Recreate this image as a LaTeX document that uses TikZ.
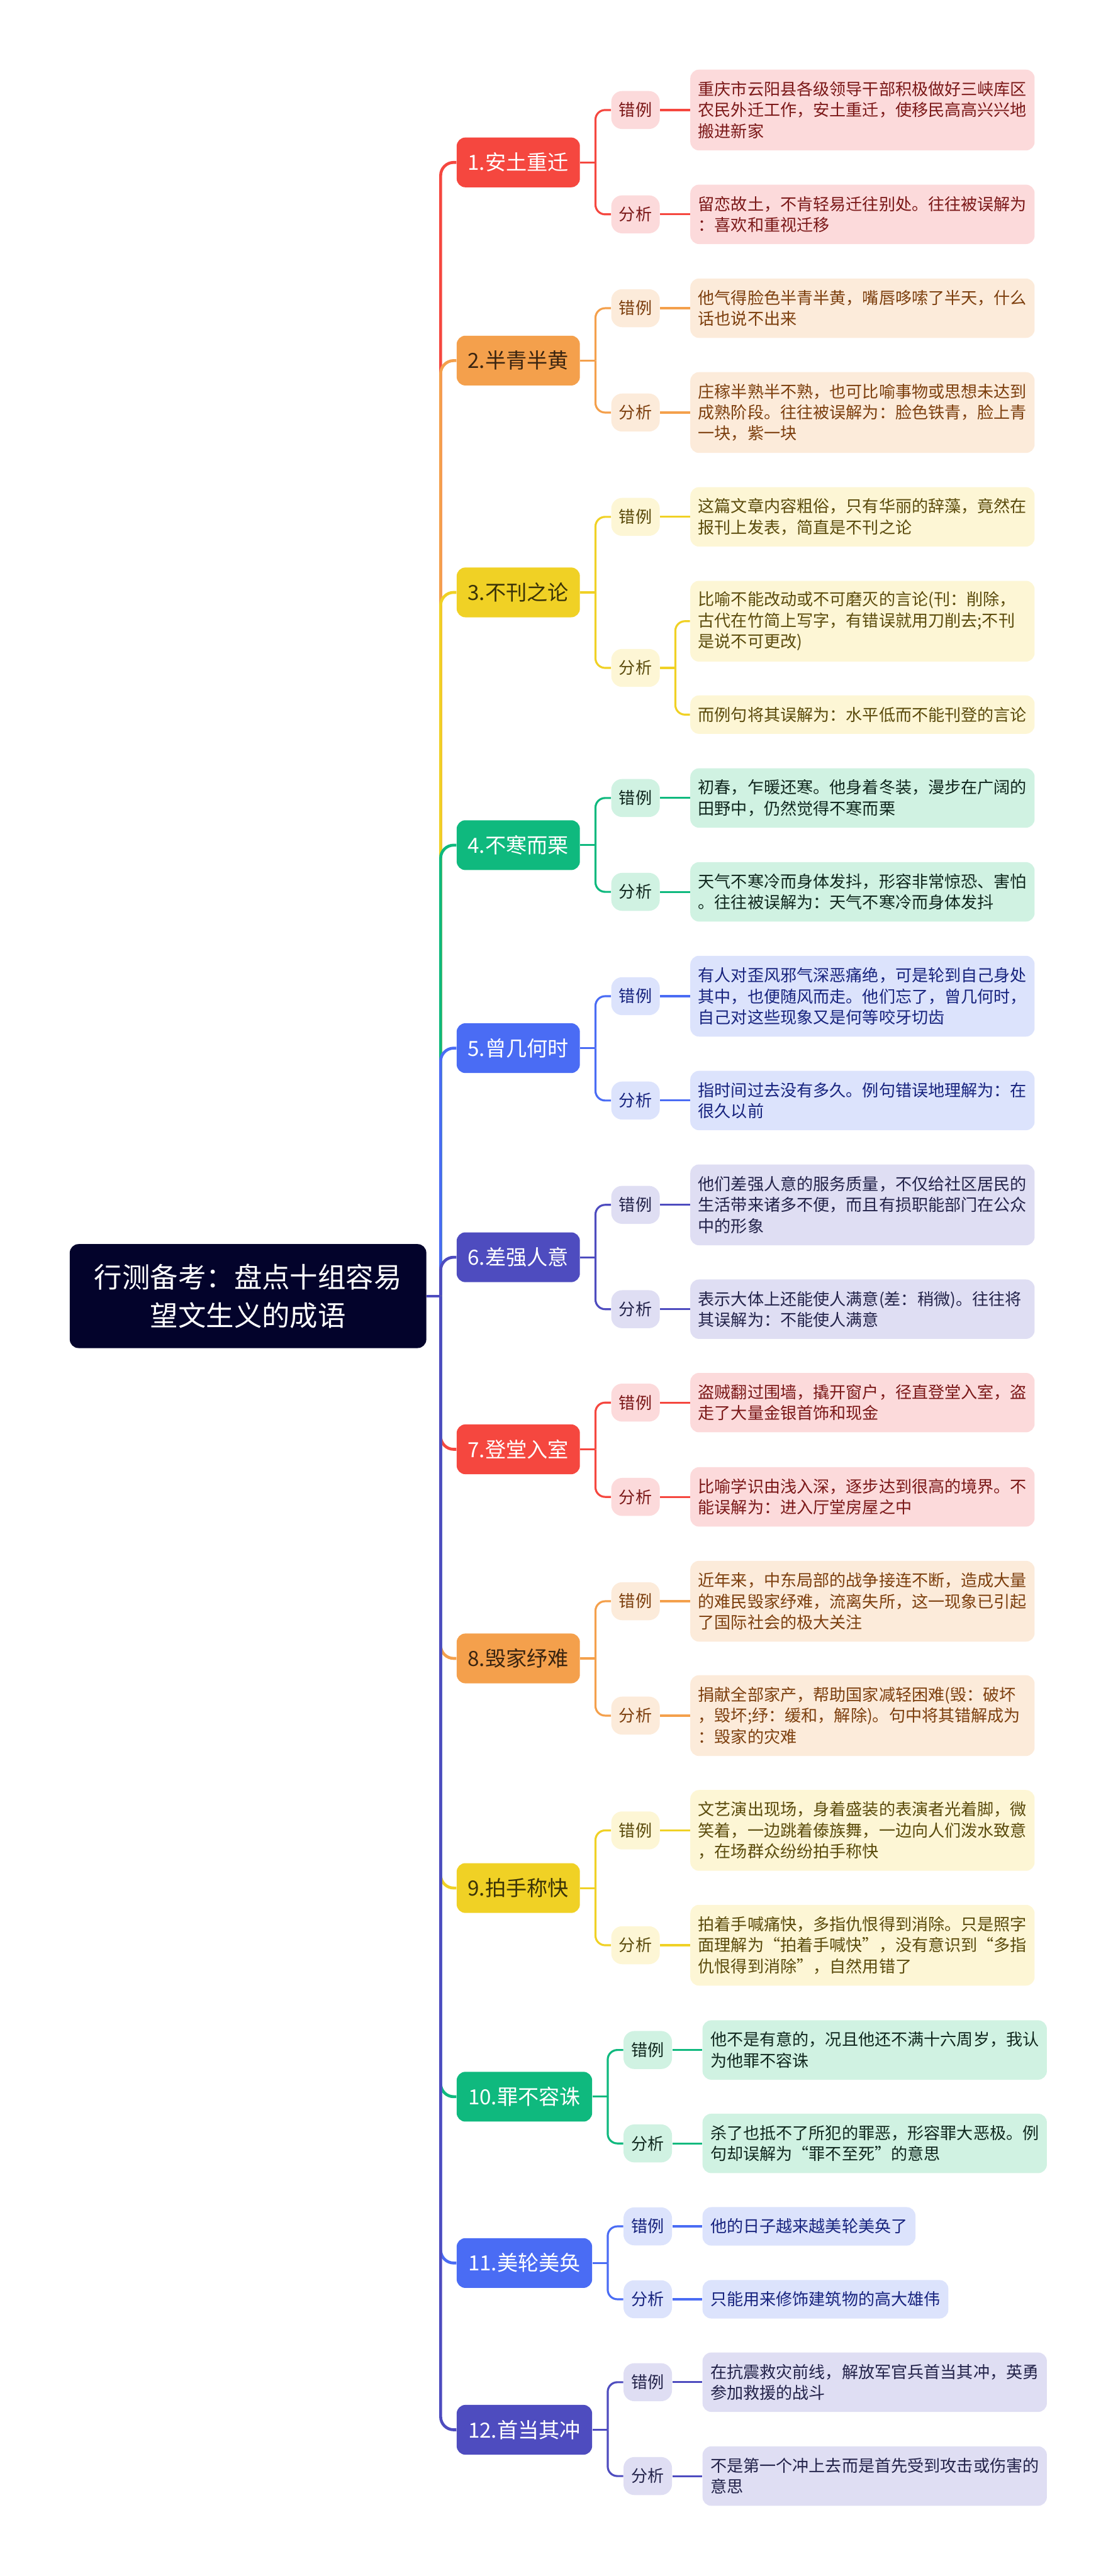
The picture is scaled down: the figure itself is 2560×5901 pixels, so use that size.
\documentclass[tikz,border=0pt]{standalone}
\usepackage{fontspec}
\setmainfont{Noto Sans CJK SC}
\definecolor{rootbg}{HTML}{03032B}
\definecolor{cRed}{HTML}{F5473F}
\definecolor{cRedL}{HTML}{FCDADB}
\definecolor{cRedT}{HTML}{7B1818}
\definecolor{cOra}{HTML}{F4A04C}
\definecolor{cOraL}{HTML}{FCEBDA}
\definecolor{cOraT}{HTML}{7D3F0E}
\definecolor{cOraD}{HTML}{3A2410}
\definecolor{cYel}{HTML}{F0D125}
\definecolor{cYelL}{HTML}{FDF6D5}
\definecolor{cYelT}{HTML}{5B4B0C}
\definecolor{cYelD}{HTML}{3A3308}
\definecolor{cGrn}{HTML}{0FB97E}
\definecolor{cGrnL}{HTML}{D0F2E2}
\definecolor{cGrnT}{HTML}{10271E}
\definecolor{cBlu}{HTML}{4A6CF4}
\definecolor{cBluL}{HTML}{DCE3FC}
\definecolor{cBluT}{HTML}{17237E}
\definecolor{cInd}{HTML}{4E4CBF}
\definecolor{cIndL}{HTML}{DFDEF3}
\definecolor{cIndT}{HTML}{23234A}
\newcommand{\notesize}{\fontsize{10.7pt}{13.66pt}\selectfont}
\newcommand{\topicsize}{\fontsize{13.6pt}{16pt}\selectfont}
\newcommand{\rootsize}{\fontsize{18.2pt}{24.75pt}\selectfont}
\tikzset{
topic/.style 2 args={anchor=west, rounded corners=0.2cm, minimum height=1.14cm, minimum width=2.82cm, inner xsep=0.25cm, fill=#1, text=#2, font=\topicsize},
tag/.style 2 args={anchor=west, rounded corners=0.25cm, minimum height=0.87cm, minimum width=1.11cm, inner xsep=0.1cm, fill=#1, text=#2, font=\notesize},
note/.style 2 args={anchor=west, rounded corners=0.2cm, inner xsep=0.18cm, inner ysep=0.1cm, align=left, fill=#1, text=#2, font=\notesize},
wide/.style={text width=7.52cm},
n1/.style={minimum height=0.88cm},
n2/.style={minimum height=1.36cm},
n3/.style={minimum height=1.85cm},
trunkline/.style={line width=1.9pt, rounded corners=0.3cm},
subline/.style={line width=1.3pt}
}
\begin{document}
\begin{tikzpicture}[x=0.01cm, y=-0.01cm]
\useasboundingbox (0,0) rectangle (2560,5901);

% root
\node[fill=rootbg, text=white, rounded corners=0.2cm, minimum width=8.16cm, minimum height=2.38cm, text width=7.1cm, align=center, font=\rootsize] (root) at (568,2969) {行测备考：盘点十组容易\\望文生义的成语};
\coordinate (trunk) at (1009,2969);

% topics
\node[topic={cRed}{white}] (t1) at (1045,372) {1.安土重迁};
\node[topic={cOra}{cOraD}] (t2) at (1045,826) {2.半青半黄};
\node[topic={cYel}{cYelD}] (t3) at (1045,1357) {3.不刊之论};
\node[topic={cGrn}{white}] (t4) at (1045,1936) {4.不寒而栗};
\node[topic={cBlu}{white}] (t5) at (1045,2401) {5.曾几何时};
\node[topic={cInd}{white}] (t6) at (1045,2880) {6.差强人意};
\node[topic={cRed}{white}] (t7) at (1045,3320) {7.登堂入室};
\node[topic={cOra}{cOraD}] (t8) at (1045,3799) {8.毁家纾难};
\node[topic={cYel}{cYelD}] (t9) at (1045,4325) {9.拍手称快};
\node[topic={cGrn}{white}, minimum width=3.1cm] (t10) at (1045,4803) {10.罪不容诛};
\node[topic={cBlu}{white}, minimum width=3.1cm] (t11) at (1045,5184) {11.美轮美奂};
\node[topic={cInd}{white}, minimum width=3.1cm] (t12) at (1045,5566) {12.首当其冲};

% 1
\node[tag={cRedL}{cRedT}] (e1) at (1399,252) {错例};
\node[tag={cRedL}{cRedT}] (f1) at (1399,491) {分析};
\node[note={cRedL}{cRedT}, wide, n3] (x1) at (1580,252) {重庆市云阳县各级领导干部积极做好三峡库区\\农民外迁工作，安土重迁，使移民高高兴兴地\\搬进新家};
\node[note={cRedL}{cRedT}, wide, n2] (y1) at (1580,491) {留恋故土，不肯轻易迁往别处。往往被误解为\\：喜欢和重视迁移};
% 2
\node[tag={cOraL}{cOraT}] (e2) at (1399,706) {错例};
\node[tag={cOraL}{cOraT}] (f2) at (1399,945) {分析};
\node[note={cOraL}{cOraT}, wide, n2] (x2) at (1580,706) {他气得脸色半青半黄，嘴唇哆嗦了半天，什么\\话也说不出来};
\node[note={cOraL}{cOraT}, wide, n3] (y2) at (1580,945) {庄稼半熟半不熟，也可比喻事物或思想未达到\\成熟阶段。往往被误解为：脸色铁青，脸上青\\一块，紫一块};
% 3
\node[tag={cYelL}{cYelT}] (e3) at (1399,1184) {错例};
\node[tag={cYelL}{cYelT}] (f3) at (1399,1530) {分析};
\node[note={cYelL}{cYelT}, wide, n2] (x3) at (1580,1184) {这篇文章内容粗俗，只有华丽的辞藻，竟然在\\报刊上发表，简直是不刊之论};
\node[note={cYelL}{cYelT}, wide, n3] (y3) at (1580,1423) {比喻不能改动或不可磨灭的言论(刊：削除，\\古代在竹简上写字，有错误就用刀削去;不刊\\是说不可更改)};
\node[note={cYelL}{cYelT}, wide, n1] (z3) at (1580,1637) {而例句将其误解为：水平低而不能刊登的言论};
% 4
\node[tag={cGrnL}{cGrnT}] (e4) at (1399,1828) {错例};
\node[tag={cGrnL}{cGrnT}] (f4) at (1399,2043) {分析};
\node[note={cGrnL}{cGrnT}, wide, n2] (x4) at (1580,1828) {初春，乍暖还寒。他身着冬装，漫步在广阔的\\田野中，仍然觉得不寒而栗};
\node[note={cGrnL}{cGrnT}, wide, n2] (y4) at (1580,2043) {天气不寒冷而身体发抖，形容非常惊恐、害怕\\。往往被误解为：天气不寒冷而身体发抖};
% 5
\node[tag={cBluL}{cBluT}] (e5) at (1399,2282) {错例};
\node[tag={cBluL}{cBluT}] (f5) at (1399,2521) {分析};
\node[note={cBluL}{cBluT}, wide, n3] (x5) at (1580,2282) {有人对歪风邪气深恶痛绝，可是轮到自己身处\\其中，也便随风而走。他们忘了，曾几何时，\\自己对这些现象又是何等咬牙切齿};
\node[note={cBluL}{cBluT}, wide, n2] (y5) at (1580,2521) {指时间过去没有多久。例句错误地理解为：在\\很久以前};
% 6
\node[tag={cIndL}{cIndT}] (e6) at (1399,2760) {错例};
\node[tag={cIndL}{cIndT}] (f6) at (1399,2999) {分析};
\node[note={cIndL}{cIndT}, wide, n3] (x6) at (1580,2760) {他们差强人意的服务质量，不仅给社区居民的\\生活带来诸多不便，而且有损职能部门在公众\\中的形象};
\node[note={cIndL}{cIndT}, wide, n2] (y6) at (1580,2999) {表示大体上还能使人满意(差：稍微)。往往将\\其误解为：不能使人满意};
% 7
\node[tag={cRedL}{cRedT}] (e7) at (1399,3213) {错例};
\node[tag={cRedL}{cRedT}] (f7) at (1399,3429) {分析};
\node[note={cRedL}{cRedT}, wide, n2] (x7) at (1580,3213) {盗贼翻过围墙，撬开窗户，径直登堂入室，盗\\走了大量金银首饰和现金};
\node[note={cRedL}{cRedT}, wide, n2] (y7) at (1580,3429) {比喻学识由浅入深，逐步达到很高的境界。不\\能误解为：进入厅堂房屋之中};
% 8
\node[tag={cOraL}{cOraT}] (e8) at (1399,3668) {错例};
\node[tag={cOraL}{cOraT}] (f8) at (1399,3930) {分析};
\node[note={cOraL}{cOraT}, wide, n3] (x8) at (1580,3668) {近年来，中东局部的战争接连不断，造成大量\\的难民毁家纾难，流离失所，这一现象已引起\\了国际社会的极大关注};
\node[note={cOraL}{cOraT}, wide, n3] (y8) at (1580,3930) {捐献全部家产，帮助国家减轻困难(毁：破坏\\，毁坏;纾：缓和，解除)。句中将其错解成为\\：毁家的灾难};
% 9
\node[tag={cYelL}{cYelT}] (e9) at (1399,4193) {错例};
\node[tag={cYelL}{cYelT}] (f9) at (1399,4456) {分析};
\node[note={cYelL}{cYelT}, wide, n3] (x9) at (1580,4193) {文艺演出现场，身着盛装的表演者光着脚，微\\笑着，一边跳着傣族舞，一边向人们泼水致意\\，在场群众纷纷拍手称快};
\node[note={cYelL}{cYelT}, wide, n3] (y9) at (1580,4456) {拍着手喊痛快，多指仇恨得到消除。只是照字\\面理解为“拍着手喊快”，没有意识到“多指\\仇恨得到消除”，自然用错了};
% 10
\node[tag={cGrnL}{cGrnT}] (e10) at (1427,4696) {错例};
\node[tag={cGrnL}{cGrnT}] (f10) at (1427,4910) {分析};
\node[note={cGrnL}{cGrnT}, wide, n2] (x10) at (1608,4696) {他不是有意的，况且他还不满十六周岁，我认\\为他罪不容诛};
\node[note={cGrnL}{cGrnT}, wide, n2] (y10) at (1608,4910) {杀了也抵不了所犯的罪恶，形容罪大恶极。例\\句却误解为“罪不至死”的意思};
% 11
\node[tag={cBluL}{cBluT}] (e11) at (1427,5100) {错例};
\node[tag={cBluL}{cBluT}] (f11) at (1427,5267) {分析};
\node[note={cBluL}{cBluT}, n1] (x11) at (1608,5100) {他的日子越来越美轮美奂了};
\node[note={cBluL}{cBluT}, n1] (y11) at (1608,5267) {只能用来修饰建筑物的高大雄伟};
% 12
\node[tag={cIndL}{cIndT}] (e12) at (1427,5457) {错例};
\node[tag={cIndL}{cIndT}] (f12) at (1427,5672) {分析};
\node[note={cIndL}{cIndT}, wide, n2] (x12) at (1608,5457) {在抗震救灾前线，解放军官兵首当其冲，英勇\\参加救援的战斗};
\node[note={cIndL}{cIndT}, wide, n2] (y12) at (1608,5672) {不是第一个冲上去而是首先受到攻击或伤害的\\意思};

% connectors
\foreach \i/\col in {1/cRed,2/cOra,3/cYel,4/cGrn,5/cBlu,6/cInd,7/cRed,8/cOra,9/cYel,10/cGrn,11/cBlu,12/cInd}{
\draw[trunkline, draw=\col] (trunk) |- (t\i.west);
\draw[subline, draw=\col] (t\i.east) -- ++(35,0) coordinate (k\i);
\draw[subline, draw=\col, rounded corners=0.22cm] (k\i) |- (e\i.west);
\draw[subline, draw=\col, rounded corners=0.22cm] (k\i) |- (f\i.west);
\draw[subline, draw=\col] (e\i) -- (x\i);
}
\foreach \i/\col in {1/cRed,2/cOra,4/cGrn,5/cBlu,6/cInd,7/cRed,8/cOra,9/cYel,10/cGrn,11/cBlu,12/cInd}{
\draw[subline, draw=\col] (f\i) -- (y\i);
}
\draw[subline, draw=cYel] (f3.east) -- ++(35,0) coordinate (g3);
\draw[subline, draw=cYel, rounded corners=0.22cm] (g3) |- (y3.west);
\draw[subline, draw=cYel, rounded corners=0.22cm] (g3) |- (z3.west);
\draw[trunkline, draw=cInd] (root.east) -- (trunk);
\end{tikzpicture}
\end{document}
